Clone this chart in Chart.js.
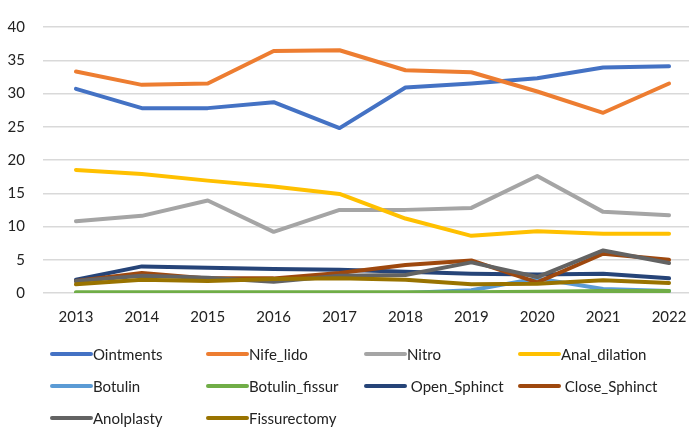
<!DOCTYPE html>
<html>
<head>
<meta charset="utf-8">
<script src="https://cdn.jsdelivr.net/npm/chart.js@4"></script>
<style>
  html, body { margin: 0; padding: 0; background: #fff; overflow: hidden; }
  body { width: 689px; height: 434px; position: relative; font-family: Lato, sans-serif; }
  #wrap { position: absolute; left: 0; top: 0; width: 705px; height: 333px; }
  #legend { position: absolute; left: 0; top: 0; width: 689px; height: 434px; pointer-events: none; }
  .item { position: absolute; display: flex; align-items: center; height: 20px; font-size: 15px; color: #222; white-space: pre; }
  .item .swatch { width: 43px; height: 4px; border-radius: 2px; }
</style>
</head>
<body>
<div id="wrap"><canvas id="grafico"></canvas></div>
<div id="legend"></div>
<script>
const years = ['2013', '2014', '2015', '2016', '2017', '2018', '2019', '2020', '2021', '2022'];
const yTicks = [0, 5, 10, 15, 20, 25, 30, 35, 40];

const ointments     = [30.7, 27.8, 27.8, 28.7, 24.8, 30.9, 31.5, 32.3, 33.9, 34.1];
const nifeLido      = [33.3, 31.3, 31.5, 36.4, 36.5, 33.5, 33.2, 30.3, 27.1, 31.5];
const nitro         = [10.8, 11.6, 13.9, 9.2, 12.5, 12.5, 12.8, 17.6, 12.2, 11.7];
const analDilation  = [18.5, 17.9, 16.9, 16.0, 14.9, 11.2, 8.6, 9.3, 8.9, 8.9];
const botulin       = [0.0, 0.0, 0.0, 0.0, 0.0, 0.0, 0.4, 2.2, 0.6, 0.3];
const botulinFissur = [0.1, 0.1, 0.1, 0.1, 0.1, 0.1, 0.1, 0.2, 0.3, 0.3];
const openSphinct   = [2.0, 4.0, 3.8, 3.6, 3.5, 3.2, 2.9, 2.8, 2.9, 2.2];
const closeSphinct  = [1.8, 3.0, 2.2, 2.2, 3.0, 4.2, 4.9, 1.6, 5.9, 5.0];
const anolplasty    = [1.8, 2.6, 2.3, 1.7, 2.6, 2.7, 4.6, 2.4, 6.4, 4.5];
const fissurectomy  = [1.3, 2.0, 1.8, 2.1, 2.2, 2.0, 1.3, 1.4, 1.9, 1.5];

const seriesNames = ['Ointments', 'Nife_lido', 'Nitro', 'Anal_dilation', 'Botulin', 'Botulin_fissur',
                     ' Open_Sphinct', ' Close_Sphinct', 'Anolplasty', 'Fissurectomy'];
const seriesData = [ointments, nifeLido, nitro, analDilation, botulin, botulinFissur,
                    openSphinct, closeSphinct, anolplasty, fissurectomy];
const seriesColors = ['#4472C4', '#ED7D31', '#A5A5A5', '#FFC000', '#5B9BD5', '#70AD47',
                      '#264478', '#9E480E', '#636363', '#997300'];

// legend grid (4 columns, 3 rows), like the excel one
const legendCols = [50, 206, 364, 518];
const legendRows = [344, 376, 408];

const datasets = seriesNames.map(function(nome, i) {
    return {
        label: nome,
        data: seriesData[i],
        borderColor: seriesColors[i],
        backgroundColor: seriesColors[i],
        borderWidth: 4,
        pointRadius: 0,
        borderCapStyle: 'round',
        borderJoinStyle: 'round',
        tension: 0,
        order: seriesNames.length - i   // later series drawn on top
    };
});

const ctx = document.getElementById('grafico').getContext('2d');
const chartInstance = new Chart(ctx, {
    type: 'line',
    data: { labels: years, datasets: datasets },
    options: {
        responsive: true,
        maintainAspectRatio: false,
        animation: false,
        layout: { padding: { top: 16, right: 3, bottom: 0, left: 0 } },
        plugins: {
            legend: { display: false },
            tooltip: { enabled: false }
        },
        scales: {
            x: {
                offset: true,
                grid: { display: false },
                border: { display: false },
                ticks: { color: '#222', font: { family: 'Lato', size: 15 }, padding: 7, maxRotation: 0 }
            },
            y: {
                min: 0,
                max: 40,
                afterBuildTicks: function(axis) {
                    axis.ticks = yTicks.map(v => ({ value: v }));
                },
                afterFit: function(axis) { axis.width = 43; },
                grid: { color: '#d9d9d9', lineWidth: 1.5, drawTicks: false },
                border: { display: false },
                ticks: { color: '#222', font: { family: 'Lato', size: 15 }, padding: 18 }
            }
        }
    }
});

// html legend built from the chart datasets
const legendBox = document.getElementById('legend');
chartInstance.data.datasets.forEach(function(ds, i) {
    const item = document.createElement('div');
    item.className = 'item';
    item.style.left = legendCols[i % 4] + 'px';
    item.style.top = legendRows[Math.floor(i / 4)] + 'px';
    const sw = document.createElement('span');
    sw.className = 'swatch';
    sw.style.background = ds.borderColor;
    const txt = document.createElement('span');
    txt.textContent = ds.label;
    item.appendChild(sw);
    item.appendChild(txt);
    legendBox.appendChild(item);
});
</script>
</body>
</html>
